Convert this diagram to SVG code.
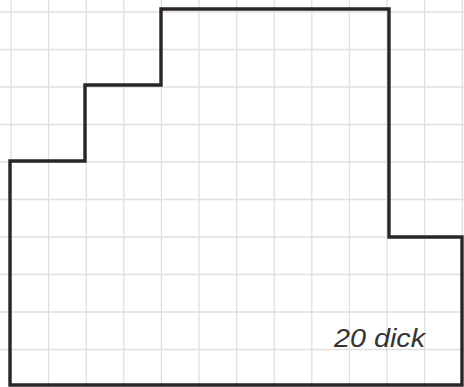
<svg xmlns="http://www.w3.org/2000/svg" width="464" height="387" viewBox="0 0 464 387">
<style>
.g{stroke:#e2e0dc;stroke-width:1.3;fill:none}
.o{stroke:#2b2626;stroke-width:3.4;fill:none;stroke-linejoin:miter}
.t{font-family:"Liberation Sans",Arial,sans-serif;font-style:italic;font-size:26px;fill:#333}
</style>
<rect width="464" height="387" fill="#ffffff"/>
<g id="grid" class="g">
<path d="M11 0V387M48.6 0V387M86.2 0V387M123.8 0V387M161.4 0V387M199 0V387M236.6 0V387M274.2 0V387M311.8 0V387M349.4 0V387M387 0V387M424.6 0V387M462.2 0V387"/>
<path d="M0 12H464M0 49.5H464M0 87H464M0 124.5H464M0 162H464M0 199.5H464M0 237H464M0 274.5H464M0 312H464M0 349.5H464"/>
</g>
<g id="outline">
<path class="o" d="M10 385V161H85V85H161V9H389V237H462V385Z"/>
</g>
<g id="label">
<text class="t" x="334" y="347" textLength="91" lengthAdjust="spacingAndGlyphs">20 dick</text>
</g>
</svg>
